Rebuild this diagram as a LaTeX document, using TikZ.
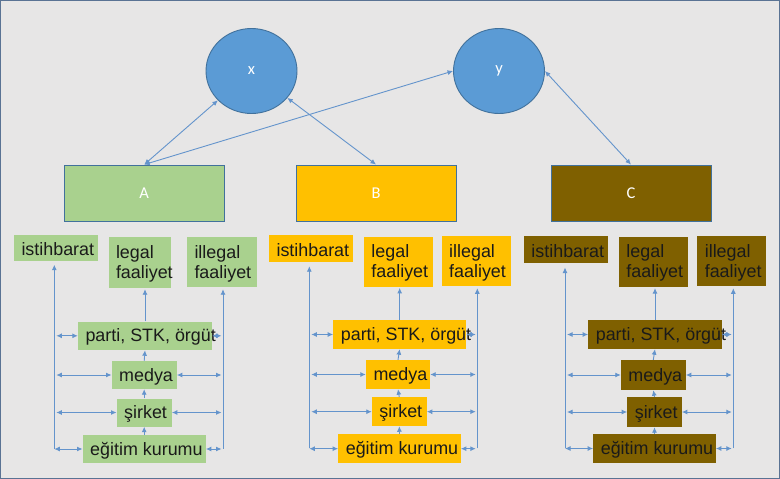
\documentclass[tikz,border=0pt]{standalone}
\usepackage{fontspec}
\setmainfont{Liberation Sans}
\newfontfamily\calib{Carlito}
\usetikzlibrary{arrows.meta,shapes.geometric}
\definecolor{bg}{HTML}{E7E6E6}
\definecolor{fr}{HTML}{5A7394}
\definecolor{lc}{HTML}{6494CC}
\definecolor{bb}{HTML}{41719C}
\definecolor{ec}{HTML}{5B9BD5}
\definecolor{eb}{HTML}{41719C}
\definecolor{txt}{HTML}{1A1A1A}
\definecolor{gA}{HTML}{A9D18E}
\definecolor{gB}{HTML}{FFC000}
\definecolor{gC}{HTML}{7F6000}
\newcommand\bx[7]{\node[sbox=#1, minimum width=#5pt, minimum height=#6pt, label={[lbl]west:{#7}}] (#2) at (#3,#4) {};}
\newcommand\grpconn[1]{%
  \draw[conn,tip,shorten >=4pt] (#1L) -- (#1L |- #1ist.south);
  \draw[conn,tip,shorten >=2pt] (#1R) -- (#1R |- #1ill.south);
  \foreach \n in {par,med,sir}{%
    \draw[conn,both,shorten <=2pt] (#1L |- #1\n) -- (#1\n.west);
    \draw[conn,both,shorten >=1.5pt] (#1\n.east) -- (#1R |- #1\n);}
  \draw[conn,both] (#1L |- #1edu) -- (#1edu.west);
  \draw[conn,both,shorten >=1.5pt] (#1edu.east) -- (#1R |- #1edu);
  \draw[conn,tip] (#1edu.north) -- (#1sir.south);
  \draw[conn,tip] (#1sir.north) -- (#1med.south);
  \draw[conn,tip] (#1med.north) -- (#1par.south);
  \draw[conn,tip,shorten >=1pt] (#1par.north) -- (#1par.north |- #1leg.south);
}
\begin{document}
\begin{tikzpicture}[x=1pt,y=-1pt,
  conn/.style={draw=lc, line width=0.9pt},
  tip/.style={-{Latex[length=5.5pt,width=5pt]}},
  both/.style={{Latex[length=5.5pt,width=5pt]}-{Latex[length=5.5pt,width=5pt]}},
  sbox/.style={fill=#1, inner sep=0pt, draw=none},
  lbl/.style={anchor=west, inner xsep=7.5pt, inner ysep=0pt, yshift=-1.5pt, align=left, font=\fontsize{17.9}{20}\selectfont, text=txt},
  big/.style={fill=#1, draw=bb, line width=0.9pt, minimum width=160pt, minimum height=56pt, inner sep=0pt, font=\calib\fontsize{16.5}{18}\selectfont, text=white},
  circ/.style={ellipse, fill=ec, draw=eb, line width=0.9pt, minimum width=91pt, minimum height=85pt, inner sep=0pt, font=\calib\fontsize{16.5}{18}\selectfont, text=white}]
\useasboundingbox (0,0) rectangle (780,479);
\fill[bg] (0,0) rectangle (780,479);
\draw[fr, line width=1.2pt] (0.6,0.6) rectangle (779.4,478.4);

\node[circ] (ex) at (251.5,71) {x};
\node[circ] (ey) at (499,71) {y};
\node[big=gA] (A) at (144.25,193) {A};
\node[big=gB] (B) at (376,193) {B};
\node[big=gC] (C) at (631,193) {C};

\draw[conn,both] (A.north) -- (ex);
\draw[conn,both] (A.north) -- (ey.west);
\draw[conn,both] (B.north) -- (ex);
\draw[conn,both] (C.north) -- (ey.east);

% group A
\bx{gA}{Aist}{56}{247.5}{84}{26}{istihbarat}
\bx{gA}{Aleg}{139.75}{262.5}{62.5}{51}{legal\\faaliyet}
\bx{gA}{Aill}{222}{262}{70}{50}{illegal\\faaliyet}
\bx{gA}{Apar}{145}{335.8}{134}{28.5}{parti, STK, örgüt}
\bx{gA}{Amed}{144.2}{375}{65}{28}{medya}
\bx{gA}{Asir}{144.2}{412.5}{55}{28}{şirket}
\bx{gA}{Aedu}{144.2}{449}{123}{28}{eğitim kurumu}
\coordinate (AL) at (54.3,448.5);
\coordinate (AR) at (223,448.5);
\grpconn{A}

% group B
\bx{gB}{Bist}{310.8}{248.5}{83.5}{27}{istihbarat}
\bx{gB}{Bleg}{398.3}{261.7}{68.7}{50}{legal\\faaliyet}
\bx{gB}{Bill}{476.2}{260.9}{69}{50.3}{illegal\\faaliyet}
\bx{gB}{Bpar}{399.7}{334.5}{132.7}{29}{parti, STK, örgüt}
\bx{gB}{Bmed}{398}{374.5}{64}{29}{medya}
\bx{gB}{Bsir}{399.3}{411.7}{54.7}{28.7}{şirket}
\bx{gB}{Bedu}{399.5}{448.7}{122.4}{29.3}{eğitim kurumu}
\coordinate (BL) at (309.3,448.3);
\coordinate (BR) at (477.3,448.3);
\grpconn{B}

% group C
\bx{gC}{Cist}{565.8}{249.5}{83.7}{27.6}{istihbarat}
\bx{gC}{Cleg}{653.3}{261.8}{68.7}{50.3}{legal\\faaliyet}
\bx{gC}{Cill}{731.5}{260.9}{68.4}{50.3}{illegal\\faaliyet}
\bx{gC}{Cpar}{655}{334.5}{133.4}{29}{parti, STK, örgüt}
\bx{gC}{Cmed}{653.3}{375}{64.7}{30}{medya}
\bx{gC}{Csir}{654.5}{412}{54.4}{30}{şirket}
\bx{gC}{Cedu}{654.5}{448.5}{122.4}{29}{eğitim kurumu}
\coordinate (CL) at (565,448.3);
\coordinate (CR) at (733.3,448.3);
\grpconn{C}
\end{tikzpicture}
\end{document}
